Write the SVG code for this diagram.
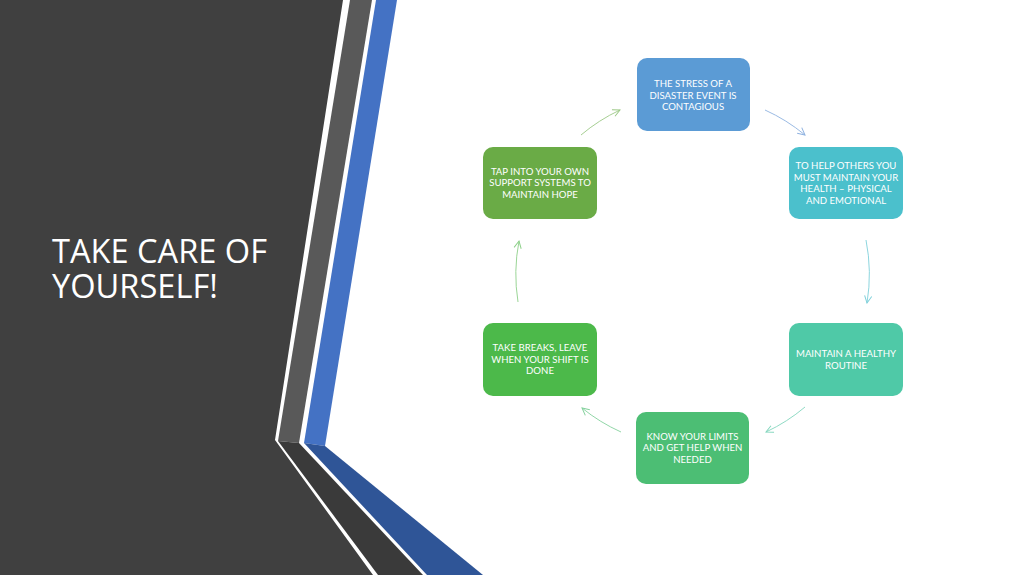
<svg xmlns="http://www.w3.org/2000/svg" width="1024" height="575" viewBox="0 0 1024 575">
<defs>
<style>
.nt{font-family:Lato,"Open Sans","Liberation Sans",sans-serif;font-size:9.6px;fill:#ffffff;text-anchor:middle}
.title{font-family:"Open Sans","Noto Sans","Liberation Sans",sans-serif;font-size:32.6px;fill:#ffffff}
.arc{fill:none;stroke-width:0.9}
</style>
<marker id="ah1" viewBox="0 0 10 10" refX="9" refY="5" markerWidth="9" markerHeight="9" orient="auto" markerUnits="userSpaceOnUse"><path d="M1,1 L9,5 L1,9" fill="none" stroke="#8fb2e0" stroke-width="1.1"/></marker>
<marker id="ah2" viewBox="0 0 10 10" refX="9" refY="5" markerWidth="9" markerHeight="9" orient="auto" markerUnits="userSpaceOnUse"><path d="M1,1 L9,5 L1,9" fill="none" stroke="#7fd0da" stroke-width="1.1"/></marker>
<marker id="ah3" viewBox="0 0 10 10" refX="9" refY="5" markerWidth="9" markerHeight="9" orient="auto" markerUnits="userSpaceOnUse"><path d="M1,1 L9,5 L1,9" fill="none" stroke="#82d6bd" stroke-width="1.1"/></marker>
<marker id="ah4" viewBox="0 0 10 10" refX="9" refY="5" markerWidth="9" markerHeight="9" orient="auto" markerUnits="userSpaceOnUse"><path d="M1,1 L9,5 L1,9" fill="none" stroke="#84d19d" stroke-width="1.1"/></marker>
<marker id="ah5" viewBox="0 0 10 10" refX="9" refY="5" markerWidth="9" markerHeight="9" orient="auto" markerUnits="userSpaceOnUse"><path d="M1,1 L9,5 L1,9" fill="none" stroke="#8ed08a" stroke-width="1.1"/></marker>
<marker id="ah6" viewBox="0 0 10 10" refX="9" refY="5" markerWidth="9" markerHeight="9" orient="auto" markerUnits="userSpaceOnUse"><path d="M1,1 L9,5 L1,9" fill="none" stroke="#9cc886" stroke-width="1.1"/></marker>
</defs>
<rect width="1024" height="575" fill="#ffffff"/>
<g id="background">
<polygon points="376,0 397,0 325,446 304,443" fill="#4472c4"/>
<polygon points="304,443 325,446 483,575 427,575" fill="#2f5597"/>
<polygon points="350,0 372,0 299,443 278,441" fill="#595959"/>
<polygon points="278,441 299,443 423,575 378,575" fill="#3a3a3a"/>
<polygon points="0,0 343,0 275,440 373,575 0,575" fill="#404040"/>
</g>
<g id="title">
<text class="title" x="52" y="263">TAKE CARE OF<tspan x="52" y="298">YOURSELF!</tspan></text>
</g>
<g id="connectors">
<path class="arc" d="M765,110 A176,176 0 0 1 805,135" stroke="#8fb2e0" marker-end="url(#ah1)"/>
<path class="arc" d="M866,240 A176,176 0 0 1 867,303" stroke="#7fd0da" marker-end="url(#ah2)"/>
<path class="arc" d="M805,407 A176,176 0 0 1 766,432" stroke="#82d6bd" marker-end="url(#ah3)"/>
<path class="arc" d="M621,432 A176,176 0 0 1 582,408" stroke="#84d19d" marker-end="url(#ah4)"/>
<path class="arc" d="M518,302 A176,176 0 0 1 519,241" stroke="#8ed08a" marker-end="url(#ah5)"/>
<path class="arc" d="M581,135 A176,176 0 0 1 620,110" stroke="#9cc886" marker-end="url(#ah6)"/>
</g>
<g id="node1">
<rect x="637" y="58" width="113" height="73" rx="10" fill="#5b9bd5"/>
<text class="nt" x="693" y="87">THE STRESS OF A</text>
<text class="nt" x="693" y="98.5">DISASTER EVENT IS</text>
<text class="nt" x="693" y="110">CONTAGIOUS</text>
</g>
<g id="node2">
<rect x="789" y="147" width="114" height="72" rx="10" fill="#4bc0cc"/>
<text class="nt" x="846" y="169">TO HELP OTHERS YOU</text>
<text class="nt" x="846" y="180.5">MUST MAINTAIN YOUR</text>
<text class="nt" x="846" y="192">HEALTH – PHYSICAL</text>
<text class="nt" x="846" y="203.5">AND EMOTIONAL</text>
</g>
<g id="node3">
<rect x="789" y="323" width="114" height="73" rx="10" fill="#4fc9a7"/>
<text class="nt" x="846" y="357">MAINTAIN A HEALTHY</text>
<text class="nt" x="846" y="368.5">ROUTINE</text>
</g>
<g id="node4">
<rect x="636" y="412" width="113" height="72" rx="10" fill="#4cbe74"/>
<text class="nt" x="692.5" y="439.5">KNOW YOUR LIMITS</text>
<text class="nt" x="692.5" y="451">AND GET HELP WHEN</text>
<text class="nt" x="692.5" y="462.5">NEEDED</text>
</g>
<g id="node5">
<rect x="483" y="323" width="114" height="73" rx="10" fill="#4cb94a"/>
<text class="nt" x="540" y="351">TAKE BREAKS, LEAVE</text>
<text class="nt" x="540" y="362.5">WHEN YOUR SHIFT IS</text>
<text class="nt" x="540" y="374">DONE</text>
</g>
<g id="node6">
<rect x="483" y="147" width="114" height="72" rx="10" fill="#6aab46"/>
<text class="nt" x="540" y="174.5">TAP INTO YOUR OWN</text>
<text class="nt" x="540" y="186">SUPPORT SYSTEMS TO</text>
<text class="nt" x="540" y="197.5">MAINTAIN HOPE</text>
</g>
</svg>
